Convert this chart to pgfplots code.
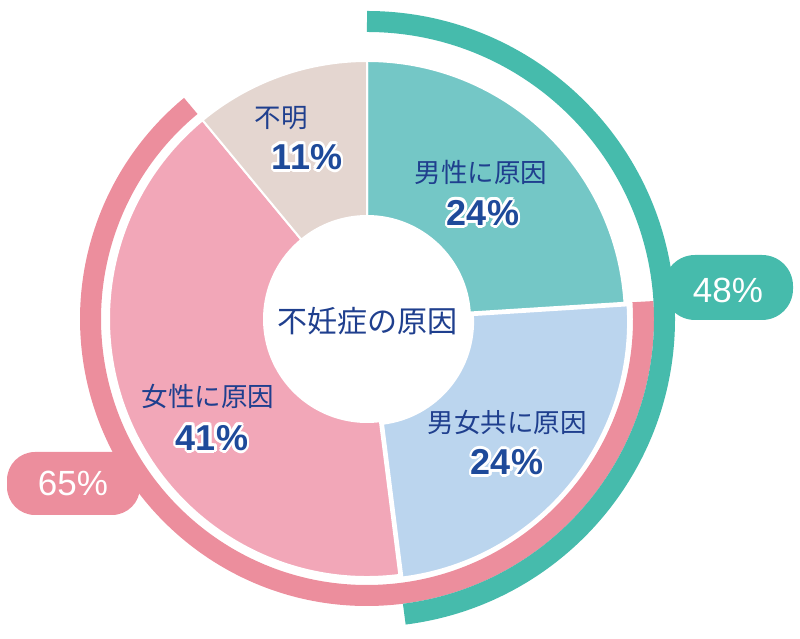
\documentclass[border=0pt]{standalone}
\usepackage{pgfplots}
\pgfplotsset{compat=1.18}
\usepackage{pgfplotstable}
\usepackage{fontspec}
\newfontfamily\jp{Noto Sans CJK JP}
\newfontfamily\arial{Liberation Sans}
\definecolor{cMale}{HTML}{74C7C6}
\definecolor{cBoth}{HTML}{BBD5EE}
\definecolor{cFemale}{HTML}{F2A7B8}
\definecolor{cUnk}{HTML}{E4D6D0}
\definecolor{cTeal}{HTML}{46BBAC}
\definecolor{cPink}{HTML}{EC8E9D}
\definecolor{cText}{HTML}{1F3F8E}
\definecolor{cPct}{HTML}{1E4A9A}
\pgfplotstableread{
cause value
male 24
both 24
female 41
unknown 11
}\causes
\pgfplotstablegetelem{0}{value}\of\causes\edef\vA{\pgfplotsretval}%
\pgfplotstablegetelem{1}{value}\of\causes\edef\vB{\pgfplotsretval}%
\pgfplotstablegetelem{2}{value}\of\causes\edef\vC{\pgfplotsretval}%
\pgfplotstablegetelem{3}{value}\of\causes\edef\vD{\pgfplotsretval}%
\pgfmathsetmacro\bA{90}%
\pgfmathsetmacro\bB{90-3.6*\vA}%
\pgfmathsetmacro\bC{\bB-3.6*\vB}%
\pgfmathsetmacro\bD{\bC-3.6*\vC}%
\pgfmathsetmacro\bE{\bD-3.6*\vD}%
\pgfmathsetmacro\mB{(\bB+\bC)/2}%
\pgfmathtruncatemacro\tealsum{\vA+\vB}%
\pgfmathtruncatemacro\pinksum{\vB+\vC}%
\newcommand\pctfont{\fontsize{36bp}{40bp}\selectfont\arial\bfseries}
\newcommand\catfont{\fontsize{26.5bp}{30bp}\selectfont\jp}
\newcommand\outl[3]{%
 \node[white,font=\pctfont,xshift=2.8bp] at (axis cs:#1,#2) {#3};
 \node[white,font=\pctfont,xshift=2.42bp,yshift=1.4bp] at (axis cs:#1,#2) {#3};
 \node[white,font=\pctfont,xshift=1.4bp,yshift=2.42bp] at (axis cs:#1,#2) {#3};
 \node[white,font=\pctfont,yshift=2.8bp] at (axis cs:#1,#2) {#3};
 \node[white,font=\pctfont,xshift=-1.4bp,yshift=2.42bp] at (axis cs:#1,#2) {#3};
 \node[white,font=\pctfont,xshift=-2.42bp,yshift=1.4bp] at (axis cs:#1,#2) {#3};
 \node[white,font=\pctfont,xshift=-2.8bp] at (axis cs:#1,#2) {#3};
 \node[white,font=\pctfont,xshift=-2.42bp,yshift=-1.4bp] at (axis cs:#1,#2) {#3};
 \node[white,font=\pctfont,xshift=-1.4bp,yshift=-2.42bp] at (axis cs:#1,#2) {#3};
 \node[white,font=\pctfont,yshift=-2.8bp] at (axis cs:#1,#2) {#3};
 \node[white,font=\pctfont,xshift=1.4bp,yshift=-2.42bp] at (axis cs:#1,#2) {#3};
 \node[white,font=\pctfont,xshift=2.42bp,yshift=-1.4bp] at (axis cs:#1,#2) {#3};
 \node[cPct,font=\pctfont] at (axis cs:#1,#2) {#3};}
\begin{document}%
\begin{tikzpicture}
\begin{axis}[x=1bp,y=1bp,xmin=0,xmax=800,ymin=0,ymax=639,hide axis,clip=false]
\path (axis cs:0,0) rectangle (axis cs:800,639);
% label boxes
\fill[cTeal, rounded corners=31bp] (axis cs:664,319) rectangle (axis cs:793,384);
\fill[cPink, rounded corners=28bp] (axis cs:7,124) rectangle (axis cs:140,187);
% outer arcs
\draw[cPink, line width=21bp] ([shift={(\bB:276.5bp)}]axis cs:367,320) arc[start angle=\bB, end angle=\bD, radius=276.5bp];
\draw[cTeal, line width=21bp] ([shift={(\bA:297.5bp)}]axis cs:367,320) arc[start angle=\bA, end angle=\bC, radius=297.5bp];
% slices
\filldraw[fill=cMale, draw=white, line width=2bp] ([shift={(\bA:258bp)}]axis cs:367,320) arc[start angle=\bA, end angle=\bB, radius=258bp] -- ([shift={(\bB:103bp)}]axis cs:367,320) arc[start angle=\bB, end angle=\bA, radius=103bp] -- cycle;
\filldraw[fill=cFemale, draw=white, line width=2bp] ([shift={(\bC:258bp)}]axis cs:367,320) arc[start angle=\bC, end angle=\bD, radius=258bp] -- ([shift={(\bD:103bp)}]axis cs:367,320) arc[start angle=\bD, end angle=\bC, radius=103bp] -- cycle;
\filldraw[fill=cUnk, draw=white, line width=2bp] ([shift={(\bD:258bp)}]axis cs:367,320) arc[start angle=\bD, end angle=\bE, radius=258bp] -- ([shift={(\bE:103bp)}]axis cs:367,320) arc[start angle=\bE, end angle=\bD, radius=103bp] -- cycle;
\filldraw[fill=cBoth, draw=white, line width=2bp, shift={(\mB:4bp)}] ([shift={(\bB:258bp)}]axis cs:367,320) arc[start angle=\bB, end angle=\bC, radius=258bp] -- ([shift={(\bC:103bp)}]axis cs:367,320) arc[start angle=\bC, end angle=\bB, radius=103bp] -- cycle;
% texts
\node[cText, font=\fontsize{30bp}{34bp}\selectfont\jp] at (axis cs:367,318) {不妊症の原因};
\node[cText, font=\catfont] at (axis cs:481,467) {男性に原因};
\outl{483}{426}{\vA\%}
\node[cText, font=\catfont] at (axis cs:507,216) {男女共に原因};
\outl{507}{177}{\vB\%}
\node[cText, font=\catfont] at (axis cs:208,242) {女性に原因};
\outl{212}{201}{\vC\%}
\node[cText, font=\catfont] at (axis cs:281,521) {不明};
\outl{307}{482}{\vD\%}
\node[white, font=\fontsize{35bp}{40bp}\selectfont\arial] at (axis cs:728,349) {\tealsum\%};
\node[white, font=\fontsize{35bp}{40bp}\selectfont\arial] at (axis cs:73,156) {\pinksum\%};
\end{axis}
\end{tikzpicture}%
\end{document}
